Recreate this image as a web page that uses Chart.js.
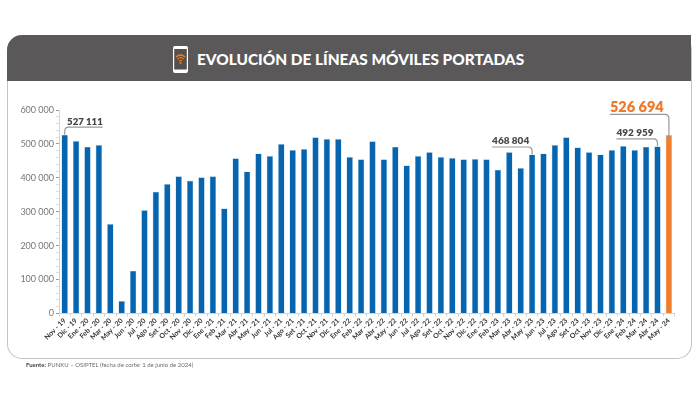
<!DOCTYPE html>
<html>
<head>
<meta charset="utf-8">
<script src="https://cdn.jsdelivr.net/npm/chart.js@4"></script>
<style>
html, body { margin: 0; padding: 0; background: #fff; }
#page { position: relative; width: 700px; height: 395px; overflow: hidden; font-family: Lato, sans-serif; }
#card { position: absolute; left: 7px; top: 35px; width: 683px; height: 323px; border: 1px solid #c4c4c4; border-top: 0; border-radius: 15px; box-sizing: content-box; }
#head { position: absolute; left: 7px; top: 35px; width: 684px; height: 46px; background: #5a5859; border-radius: 15px 0 0 0; }
#title { position: absolute; left: 197px; top: 50px; color: #fff; font-weight: 900; font-size: 15.4px; line-height: 19px; white-space: nowrap; }
#phone { position: absolute; left: 172px; top: 45px; }
#source { position: absolute; left: 26px; top: 361px; font-size: 6px; line-height: 8px; color: #6d6d6d; white-space: nowrap; }
#source b { color: #444; }
canvas { position: absolute; left: 0; top: 0; }
</style>
</head>
<body>
<div id="page">
  <div id="card"></div>
  <div id="head"></div>
  <svg id="phone" width="17" height="29" viewBox="0 0 17 29">
    <rect x="1" y="1" width="15" height="27" rx="2" fill="#fff"/>
    <rect x="2.2" y="4" width="12.6" height="20.5" fill="#55504e"/>
    <g fill="none" stroke="#ee7d23" stroke-width="1.2">
      <path d="M4 12 Q8.5 8 13 12"/>
      <path d="M5.5 14 Q8.5 11.5 11.5 14"/>
      <path d="M7 16 Q8.5 15 10 16"/>
    </g>
    <circle cx="8.5" cy="18" r="1" fill="#ee7d23"/>
  </svg>
  <div id="title">EVOLUCIÓN DE LÍNEAS MÓVILES PORTADAS</div>
  <canvas id="chart" width="700" height="395"></canvas>
  <div id="source"><b>Fuente:</b> PUNKU – OSIPTEL (fecha de corte: 1 de junio de 2024)</div>
</div>
<script>
var months = [
    "Nov - 19", "Dic - 19", "Ene - 20", "Feb - 20", "Mar - 20", "May - 20", "Jun - 20", "Jul - 20", "Ago - 20", "Set - 20", "Oct - 20", "Nov - 20", "Dic - 20",
    "Ene - 21", "Feb - 21", "Mar - 21", "Abr - 21", "May - 21", "Jun - 21", "Jul - 21", "Ago - 21", "Set - 21", "Oct - 21", "Nov - 21", "Dic - 21",
    "Ene - 22", "Feb - 22", "Mar - 22", "Abr - 22", "May - 22", "Jun - 22", "Jul - 22", "Ago - 22", "Set - 22", "Oct - 22", "Nov - 22", "Dic - 22",
    "Ene - 23", "Feb - 23", "Mar - 23", "Abr - 23", "May - 23", "Jun - 23", "Jul - 23", "Ago - 23", "Set - 23", "Oct - 23", "Nov - 23", "Dic - 23",
    "Ene - 24", "Feb - 24", "Mar - 24", "Abr - 24", "May - 24"
];
var lines = [
    527111, 509000, 492000, 497000, 264000, 37000, 126000, 305000, 359000, 382000, 405000, 392000, 402000,
    405000, 310000, 458000, 419000, 472000, 465000, 500000, 482000, 485000, 520000, 515000, 515000,
    462000, 455000, 508000, 455000, 492000, 437000, 465000, 476000, 462000, 459000, 455000, 456000,
    455000, 424000, 476000, 429000, 468804, 472000, 497000, 520000, 490000, 476000, 469000, 482000,
    494000, 482000, 492000, 492959, 526694
];
var calloutBars = [0, 41, 52, 53];
var calloutLabels = ["527 111", "468 804", "492 959", "526 694"];

var BLUE = "#0665ae";
var ORANGE = "#f07d2e";

function spaced(v) {
    return String(v).replace(/\B(?=(\d{3})+$)/g, " ");
}

// leader lines and value labels, anchored on the bar elements
var callouts = {
    id: "callouts",
    afterDatasetsDraw: function(chart) {
        var c = chart.ctx;
        var bars = chart.getDatasetMeta(0).data;
        // rise above bar, run along the text, direction, text size, colour
        var styles = [
            { rise: 8, run: 38, dir: 1, size: 9.6, color: "#444" },
            { rise: 8, run: 40, dir: -1, size: 10, color: "#4a4a4a" },
            { rise: 8, run: 41, dir: -1, size: 10, color: "#4a4a4a" },
            { rise: 21, run: 59, dir: -1, size: 14.5, color: "#f0782a" }
        ];
        calloutBars.forEach(function(idx, i) {
            var s = styles[i];
            var bar = bars[idx];
            var lineY = bar.y - s.rise;
            var endX = bar.x + s.dir * s.run;
            var downTo = i === 3 ? bar.y + 5 : bar.y;
            c.save();
            c.strokeStyle = "#999";
            c.lineWidth = 1.2;
            c.beginPath();
            c.moveTo(endX, lineY + 0.5);
            c.lineTo(bar.x + s.dir * 4, lineY + 0.5);
            c.quadraticCurveTo(bar.x, lineY + 0.5, bar.x, lineY + 5);
            c.lineTo(bar.x, downTo);
            c.stroke();
            c.fillStyle = s.color;
            c.font = "800 " + s.size + "px Lato, sans-serif";
            c.textBaseline = "alphabetic";
            c.textAlign = s.dir > 0 ? "right" : "left";
            c.fillText(calloutLabels[i], endX, lineY - 2);
            c.restore();
        });
    }
};

new Chart(document.getElementById("chart").getContext("2d"), {
    type: "bar",
    data: {
        labels: months,
        datasets: [{
            data: lines,
            backgroundColor: lines.map(function(v, i) { return i === lines.length - 1 ? ORANGE : BLUE; }),
            borderColor: lines.map(function(v, i) { return i === lines.length - 1 ? "#f6c9a6" : "#bcd6ec"; }),
            borderWidth: 0.6,
            barPercentage: 0.58,
            categoryPercentage: 1
        }]
    },
    options: {
        responsive: false,
        animation: false,
        layout: { padding: { left: 0, top: 110, right: 25.4, bottom: 0 } },
        plugins: { legend: { display: false }, tooltip: { enabled: false }, title: { display: false } },
        scales: {
            x: {
                afterFit: function(scale) { scale.height = 81.5; },
                border: { color: "#d4d4d4" },
                grid: { drawOnChartArea: false, tickLength: 3, tickColor: "#cfcfcf" },
                ticks: {
                    autoSkip: false,
                    minRotation: 45,
                    maxRotation: 45,
                    padding: 0,
                    color: "#333",
                    font: { family: "Lato, sans-serif", size: 7, weight: "700" }
                }
            },
            y: {
                min: 0,
                max: 600000,
                afterFit: function(scale) { scale.width = 59; },
                border: { color: "#d4d4d4" },
                grid: {
                    drawOnChartArea: false,
                    tickLength: 3,
                    tickColor: function(ctx) { return ctx.tick.value % 100000 === 0 ? "#9a9a9a" : "#dcdcdc"; }
                },
                ticks: {
                    stepSize: 20000,
                    autoSkip: false,
                    padding: 2,
                    color: "#777",
                    font: { family: "Lato, sans-serif", size: 9 },
                    callback: function(v) { return v % 100000 === 0 ? spaced(v) : ""; }
                }
            }
        }
    },
    plugins: [callouts]
});
</script>
</body>
</html>
